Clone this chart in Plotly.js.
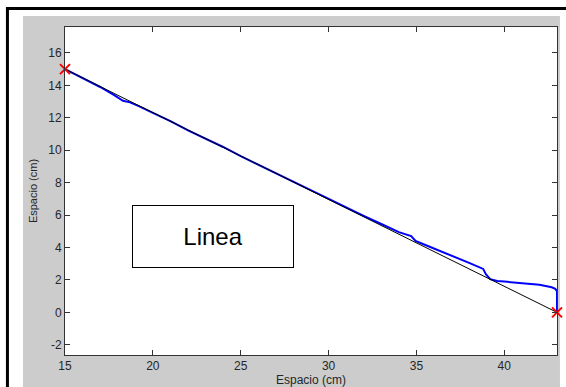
<!DOCTYPE html>
<html>
<head>
<meta charset="utf-8">
<script src="https://cdn.plot.ly/plotly-3.0.1.min.js"></script>
<style>html,body{margin:0;padding:0;background:#fff;}#chart{width:566px;height:387px;}</style>
</head>
<body>
<div id="chart"></div>
<script>
// Measured path (blue)
const pathX = [15, 16, 17, 17.8, 18.3, 18.7, 19.2, 20, 21, 22, 23, 24, 25, 26, 27, 28, 29, 30, 30.8, 31.1, 32, 33, 34, 34.7, 34.95, 35.3, 36, 37, 38, 38.8, 38.95, 39.2, 39.6, 40, 41, 42, 42.7, 42.9, 43, 43];
const pathY = [15, 14.45, 13.9, 13.4, 13.05, 12.95, 12.72, 12.3, 11.8, 11.22, 10.72, 10.2, 9.63, 9.1, 8.6, 8.05, 7.52, 7.0, 6.6, 6.4, 5.95, 5.45, 4.95, 4.7, 4.4, 4.25, 3.95, 3.5, 3.05, 2.68, 2.35, 2.05, 1.93, 1.9, 1.82, 1.7, 1.55, 1.45, 1.3, 0];
// Ideal straight line (black)
const lineX = [15, 43];
const lineY = [15, 0];
// Start / end points (red x)
const endsX = [15, 43];
const endsY = [15, 0];
const xTicks = [15, 20, 25, 30, 35, 40];
const yTicks = [-2, 0, 2, 4, 6, 8, 10, 12, 14, 16];
const boxLabel = "Linea";

const fam = "Arial, 'Liberation Sans', sans-serif";
const tickFont = {family: fam, size: 12, color: "#262626"};

const traces = [
  {x: pathX, y: pathY, mode: "lines", line: {color: "#0000ff", width: 2}},
  {x: lineX, y: lineY, mode: "lines", line: {color: "#000000", width: 1}, hoverinfo: "skip"},
  {x: endsX, y: endsY, mode: "markers", cliponaxis: false,
   marker: {symbol: "x-thin", size: 10, line: {color: "#ff0000", width: 2}, color: "#ff0000"}}
];

const layout = {
  width: 566, height: 387,
  margin: {l: 65, r: 9, t: 27, b: 32, pad: 0},
  paper_bgcolor: "#ffffff",
  plot_bgcolor: "#ffffff",
  showlegend: false,
  xaxis: {
    range: [15, 43], tickvals: xTicks, ticktext: xTicks.map(String),
    ticks: "inside", ticklen: 5, tickwidth: 1, tickcolor: "#333333",
    showline: true, linecolor: "#333333", linewidth: 1, mirror: "ticks",
    showgrid: false, zeroline: false, tickfont: tickFont,
    title: {text: "Espacio (cm)", font: {family: fam, size: 12, color: "#262626"}, standoff: 1}
  },
  yaxis: {
    range: [-2.63, 17.6], tickvals: yTicks, ticktext: yTicks.map(String),
    ticks: "inside", ticklen: 5, tickwidth: 1, tickcolor: "#333333",
    showline: true, linecolor: "#333333", linewidth: 1, mirror: "ticks",
    showgrid: false, zeroline: false, tickfont: tickFont,
    title: {text: "Espacio (cm)", font: {family: fam, size: 11, color: "#262626"}, standoff: 8}
  },
  shapes: [
    {type: "rect", xref: "paper", yref: "paper", x0: -0.0854, x1: 1.006, y0: -0.2, y1: 1.0335,
     fillcolor: "#cccccc", line: {width: 0}, layer: "below"},
    {type: "rect", xref: "paper", yref: "paper", x0: 0, x1: 1, y0: 0, y1: 1,
     fillcolor: "#ffffff", line: {width: 0}, layer: "below"},
    {type: "path", xref: "paper", yref: "paper", path: "M -0.117 -0.2 L -0.117 1.0564 L 1.2 1.0564",
     line: {color: "#000000", width: 3}}
  ],
  annotations: [
    {x: 23.42, y: 4.67, xref: "x", yref: "y", text: boxLabel, showarrow: false,
     font: {family: fam, size: 24, color: "#000000"},
     width: 160, height: 61, bgcolor: "#ffffff", bordercolor: "#000000", borderwidth: 1, borderpad: 0}
  ]
};

Plotly.newPlot("chart", traces, layout, {displayModeBar: false, staticPlot: true});
</script>
</body>
</html>
